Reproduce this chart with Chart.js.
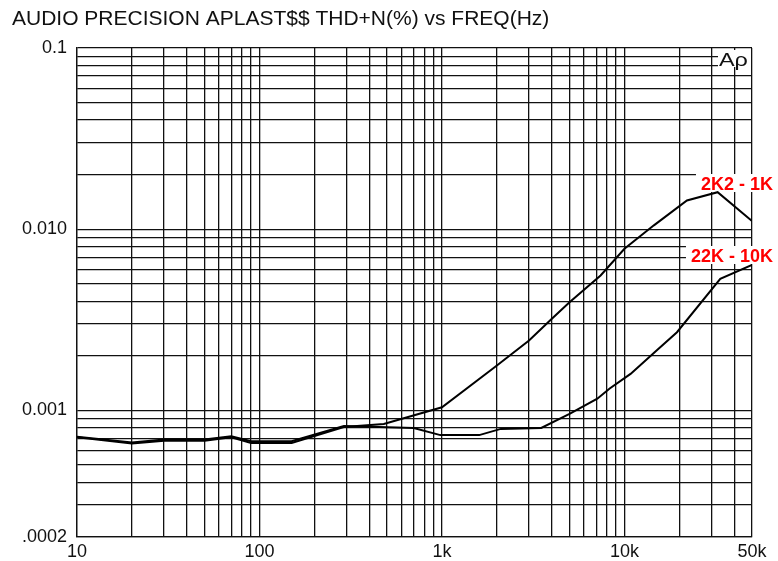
<!DOCTYPE html>
<html>
<head>
<meta charset="utf-8">
<script src="https://cdn.jsdelivr.net/npm/chart.js@4.4.1/dist/chart.umd.min.js"></script>
<style>
  html, body { margin: 0; padding: 0; background: #fff; }
  #wrap { width: 778px; height: 561px; }
</style>
</head>
<body>
<div id="wrap"><canvas id="myChart" width="778" height="561"></canvas></div>
<script>
// frequency (Hz) and THD+N (%)
const freqs1 = [10, 20, 30, 50, 70, 90, 150, 290, 480, 1000, 2000, 3000, 4000, 5000, 7400, 10000, 14500, 22000, 32400, 50000];
const thd1 = [0.00071, 0.000657, 0.00068, 0.00068, 0.000711, 0.00066, 0.00066, 0.00081, 0.00084, 0.00104, 0.00177, 0.00243, 0.0032, 0.00395, 0.00555, 0.0078, 0.0105, 0.0144, 0.016, 0.0111];

const freqs2 = [10, 20, 30, 50, 70, 90, 150, 290, 700, 980, 1600, 2100, 3500, 5000, 7100, 8300, 10800, 15000, 19400, 33500, 50000];
const thd2 = [0.000715, 0.000665, 0.00069, 0.00069, 0.00072, 0.000675, 0.000675, 0.00082, 0.0008, 0.00073, 0.00073, 0.00079, 0.0008, 0.000955, 0.00116, 0.00132, 0.00159, 0.00214, 0.0027, 0.00532, 0.00635];

const seriesNames = ['2K2 - 1K', '22K - 10K'];

const xTickValues = [10, 100, 1000, 10000, 50000];
const xTickLabels = ['10', '100', '1k', '10k', '50k'];
const yTickValues = [0.1, 0.01, 0.001, 0.0002];
const yTickLabels = ['0.1', '0.010', '0.001', '.0002'];

const titleText = 'AUDIO PRECISION APLAST$$ THD+N(%) vs FREQ(Hz)';
const FONT = '"Liberation Sans", Arial, Helvetica, sans-serif';

// 1..9 x each decade between min and max, for the grid
function logGrid(min, max) {
    var out = [];
    for (var e = -5; e <= 6; e++) {
        for (var m = 1; m <= 9; m++) {
            var v = parseFloat((m * Math.pow(10, e)).toPrecision(6));
            if (v >= min * 0.9999 && v <= max * 1.0001) out.push(v);
        }
    }
    return out;
}

function labelFor(v, values, labels) {
    for (var i = 0; i < values.length; i++) {
        if (Math.abs(v - values[i]) / values[i] < 1e-6) return labels[i];
    }
    return '';
}

function toPoints(xs, ys) {
    return xs.map(function (x, i) { return { x: x, y: ys[i] }; });
}

const decorations = {
    id: 'decorations',
    beforeDatasetsDraw(chart) {
        const ctx = chart.ctx;
        const a = chart.chartArea;
        ctx.save();
        // series labels with white backing
        ctx.font = 'bold 18px ' + FONT;
        ctx.textBaseline = 'alphabetic';
        var labs = [
            { text: seriesNames[0], base: a.top + 142 },
            { text: seriesNames[1], base: a.top + 214 }
        ];
        labs.forEach(function (l) {
            var w = ctx.measureText(l.text).width;
            var right = a.right + 21;
            ctx.fillStyle = '#fff';
            ctx.fillRect(right - w - 5, l.base - 16, w + 10, 18);
            ctx.fillStyle = '#ff0000';
            ctx.textAlign = 'right';
            ctx.fillText(l.text, right, l.base);
        });
        // Ap logo
        ctx.fillStyle = '#fff';
        ctx.fillRect(a.right - 34, a.top + 2, 33, 17);
        ctx.fillStyle = '#111';
        ctx.font = '18px ' + FONT;
        ctx.textAlign = 'left';
        ctx.save();
        ctx.translate(a.right - 33, a.top + 18);
        ctx.scale(1.3, 1);
        ctx.fillText('A\u03c1', 0, 0);
        ctx.restore();
        ctx.restore();
    },
    afterDraw(chart) {
        const ctx = chart.ctx;
        ctx.save();
        ctx.fillStyle = '#111';
        ctx.font = '21px ' + FONT;
        ctx.textAlign = 'left';
        ctx.textBaseline = 'alphabetic';
        ctx.fillText(titleText, 12, 25);
        ctx.restore();
    }
};

const whiteBg = {
    id: 'whiteBg',
    beforeDraw(chart) {
        const ctx = chart.ctx;
        ctx.save();
        ctx.fillStyle = '#fff';
        ctx.fillRect(0, 0, chart.width, chart.height);
        ctx.restore();
    }
};

new Chart(document.getElementById('myChart').getContext('2d'), {
    type: 'line',
    data: {
        datasets: [{
            label: seriesNames[0],
            data: toPoints(freqs1, thd1),
            borderColor: '#000',
            borderWidth: 2,
            pointRadius: 0,
            tension: 0,
            fill: false
        }, {
            label: seriesNames[1],
            data: toPoints(freqs2, thd2),
            borderColor: '#000',
            borderWidth: 2,
            pointRadius: 0,
            tension: 0,
            fill: false
        }]
    },
    options: {
        responsive: false,
        animation: false,
        events: [],
        layout: { padding: { top: 48, right: 26, left: 0, bottom: 0 } },
        plugins: {
            legend: { display: false },
            tooltip: { enabled: false },
            title: { display: false }
        },
        scales: {
            x: {
                type: 'logarithmic',
                min: 10,
                max: 50000,
                afterBuildTicks: function (scale) {
                    scale.ticks = logGrid(10, 50000).map(function (v) { return { value: v }; });
                },
                afterFit: function (scale) { scale.height = 24; },
                grid: { color: '#111', lineWidth: 1.3, drawTicks: false },
                border: { display: true, color: '#111', width: 1.3 },
                ticks: {
                    autoSkip: false,
                    maxRotation: 0,
                    padding: 4,
                    color: '#111',
                    font: { family: FONT, size: 18 },
                    callback: function (v) { return labelFor(v, xTickValues, xTickLabels); }
                }
            },
            y: {
                type: 'logarithmic',
                min: 0.0002,
                max: 0.1,
                afterBuildTicks: function (scale) {
                    scale.ticks = logGrid(0.0002, 0.1).map(function (v) { return { value: v }; });
                },
                afterFit: function (scale) { scale.width = 77; },
                grid: { color: '#111', lineWidth: 1.3, drawTicks: false },
                border: { display: true, color: '#111', width: 1.3 },
                ticks: {
                    autoSkip: false,
                    padding: 10,
                    color: '#111',
                    font: { family: FONT, size: 18 },
                    callback: function (v) { return labelFor(v, yTickValues, yTickLabels); }
                }
            }
        }
    },
    plugins: [whiteBg, decorations]
});
</script>
</body>
</html>
